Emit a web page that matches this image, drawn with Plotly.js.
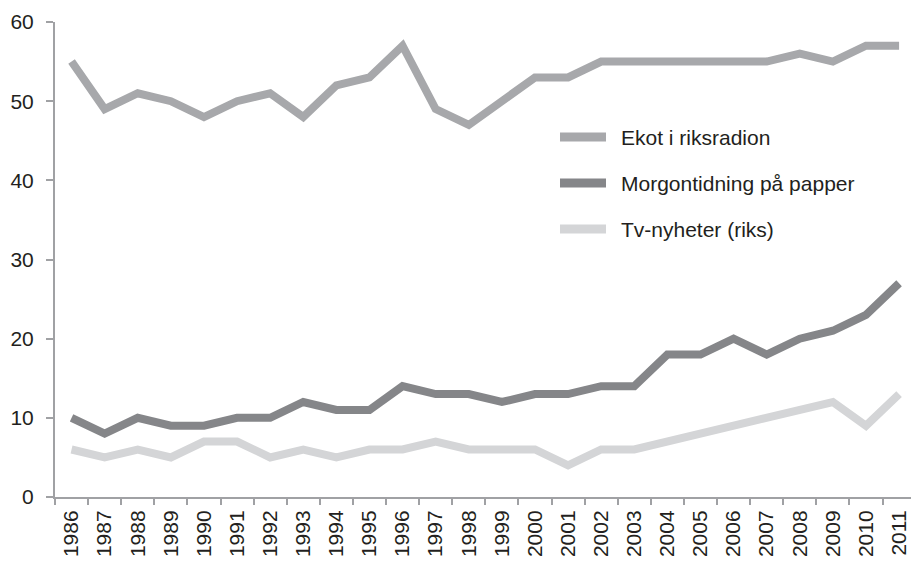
<!DOCTYPE html>
<html>
<head>
<meta charset="utf-8">
<script src="https://cdn.plot.ly/plotly-3.0.1.min.js"></script>
<style>html,body{margin:0;padding:0;background:#fff;}#chart{width:911px;height:561px;}</style>
</head>
<body>
<div id="chart"></div>
<script>
const years = ["1986","1987","1988","1989","1990","1991","1992","1993","1994","1995","1996","1997","1998","1999","2000","2001","2002","2003","2004","2005","2006","2007","2008","2009","2010","2011"];
const ekot = [55,49,51,50,48,50,51,48,52,53,57,49,47,50,53,53,55,55,55,55,55,55,56,55,57,57];
const morgon = [10,8,10,9,9,10,10,12,11,11,14,13,13,12,13,13,14,14,18,18,20,18,20,21,23,27];
const tv = [6,5,6,5,7,7,5,6,5,6,6,7,6,6,6,4,6,6,7,8,9,10,11,12,9,13];
const seriesNames = ["Ekot i riksradion","Morgontidning på papper","Tv-nyheter (riks)"];
const seriesColors = ["#a7a8ab","#858689","#d4d5d7"];
const seriesValues = [ekot, morgon, tv];

const W = 911, H = 561;
const M = {l: 55, r: 0, t: 22, b: 64};
const pw = W - M.l - M.r, ph = H - M.t - M.b;
const px2x = p => (p - M.l) / pw;
const py2y = p => (H - M.b - p) / ph;

const traces = seriesValues.map((v,i)=>({
  x: years, y: v, type: "scatter", mode: "lines", name: seriesNames[i],
  line: {color: seriesColors[i], width: 8}
}));

// custom legend (line swatches + text)
const legendTop = 137, legendStep = 46;
const shapes = [], annotations = [];
seriesNames.forEach((n,i)=>{
  const yy = py2y(legendTop + i*legendStep);
  shapes.push({type: "line", xref: "paper", yref: "paper",
    x0: px2x(560), x1: px2x(606), y0: yy, y1: yy,
    line: {color: seriesColors[i], width: 9}});
  annotations.push({xref: "paper", yref: "paper", x: px2x(619), y: yy,
    xanchor: "left", yanchor: "middle", showarrow: false, text: n,
    font: {size: 21, color: "#231f20"}});
});

const layout = {
  width: W, height: H,
  margin: M,
  paper_bgcolor: "#fff", plot_bgcolor: "#fff",
  font: {family: "Liberation Sans, Arial, sans-serif", size: 21, color: "#231f20"},
  showlegend: false,
  shapes: shapes, annotations: annotations,
  xaxis: {type: "category", range: [-0.5, 25.36], showgrid: false, zeroline: false,
          showline: true, linecolor: "#a0a1a4", linewidth: 2,
          ticks: "outside", tickson: "boundaries", ticklen: 6, tickcolor: "#a0a1a4", tickwidth: 2,
          tickangle: -90, tickfont: {size: 21, color: "#231f20"}, ticklabelstandoff: 3, fixedrange: true},
  yaxis: {range: [0, 60], dtick: 10, showgrid: false, zeroline: false,
          showline: true, linecolor: "#a0a1a4", linewidth: 2,
          ticks: "outside", ticklen: 7, tickcolor: "#a0a1a4", tickwidth: 2,
          tickfont: {size: 21, color: "#231f20"}, ticklabelstandoff: 8, fixedrange: true}
};
Plotly.newPlot("chart", traces, layout, {staticPlot: true});
</script>
</body>
</html>
